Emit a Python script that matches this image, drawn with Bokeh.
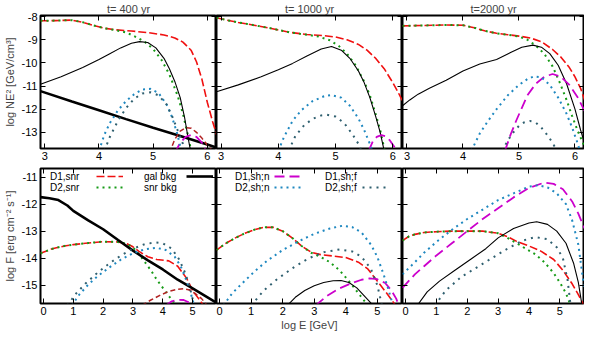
from bokeh.plotting import figure
from bokeh.layouts import row, column
from bokeh.models import Range1d, LinearAxis, FixedTicker, Legend, LegendItem
from bokeh.embed import file_html
from bokeh.resources import INLINE

FONT = "Liberation Sans"

# ---------------- data ----------------
TITLES = ["t= 400 yr", "t= 1000 yr", "t=2000 yr"]
TOP_YLABEL = "log NE\u00b2 [GeV/cm\u00b3]"
BOT_YLABEL = "log F [erg cm\u207b\u00b2 s\u207b\u00b9]"
XLABEL = "log E [GeV]"
TOP_XTICKS = [3, 4, 5, 6]
TOP_YTICKS = [-13, -12, -11, -10, -9, -8]
BOT_XTICKS = [0, 1, 2, 3, 4, 5]
BOT_YTICKS = [-15, -14, -13, -12, -11]
TOP_XRANGE = (2.92, 6.17)
TOP_YRANGE = (-13.7, -7.95)
BOT_XRANGE = (-0.1, 5.8)
BOT_YRANGE = (-15.68, -10.68)

# ---- t = 400 yr, log NE^2 ----
T400_D1snr_x = [2.92, 3.2, 3.5, 3.7, 3.9, 4.1, 4.3, 4.6, 4.9, 5.2, 5.4, 5.55, 5.7, 5.8, 5.9, 6.0, 6.1, 6.2]
T400_D1snr_y = [-8.18, -8.17, -8.15, -8.24, -8.38, -8.5, -8.57, -8.62, -8.69, -8.79, -8.92, -9.1, -9.45, -9.95, -10.7, -11.7, -12.55, -13.3]
T400_D2snr_x = [2.92, 3.2, 3.5, 3.7, 3.9, 4.1, 4.3, 4.5, 4.7, 4.85, 5.0, 5.15, 5.3, 5.45, 5.55, 5.65, 5.72]
T400_D2snr_y = [-8.18, -8.17, -8.15, -8.24, -8.38, -8.5, -8.58, -8.68, -8.9, -9.1, -9.4, -9.85, -10.5, -11.4, -12.2, -13.2, -14.0]
T400_gal_x = [2.92, 3.5, 4.0, 4.5, 5.0, 5.5, 6.0, 6.2]
T400_gal_y = [-11.22, -11.67, -12.05, -12.43, -12.8, -13.16, -13.53, -13.68]
T400_snrbkg_x = [2.92, 3.3, 3.7, 4.0, 4.2, 4.4, 4.6, 4.75, 4.9, 5.05, 5.2, 5.3, 5.4, 5.5, 5.58, 5.65, 5.7]
T400_snrbkg_y = [-10.92, -10.6, -10.2, -9.85, -9.6, -9.35, -9.15, -9.08, -9.12, -9.35, -9.8, -10.25, -10.8, -11.5, -12.35, -13.3, -13.9]
T400_D1shn_x = [5.4, 5.5, 5.6, 5.7, 5.8, 5.9, 6.0]
T400_D1shn_y = [-13.9, -13.45, -13.2, -13.12, -13.2, -13.45, -13.9]
T400_D2shn_x = [4.0, 4.1, 4.2, 4.35, 4.5, 4.65, 4.8, 4.95, 5.1, 5.25, 5.35, 5.45, 5.52]
T400_D2shn_y = [-13.8, -13.1, -12.6, -12.05, -11.65, -11.35, -11.15, -11.12, -11.3, -11.8, -12.35, -13.1, -13.8]
T400_D1shf_x = [5.3, 5.4, 5.5, 5.6, 5.7, 5.8, 5.9, 6.0, 6.1, 6.2]
T400_D1shf_y = [-13.9, -13.3, -12.95, -12.8, -12.82, -13.0, -13.25, -13.55, -13.8, -14.0]
T400_D2shf_x = [4.1, 4.2, 4.35, 4.5, 4.65, 4.8, 4.95, 5.1, 5.25, 5.35, 5.45, 5.55, 5.6]
T400_D2shf_y = [-13.8, -13.2, -12.5, -11.95, -11.55, -11.32, -11.27, -11.4, -11.8, -12.3, -12.9, -13.5, -13.9]

# ---- t = 1000 yr, log NE^2 ----
T1000_D1snr_x = [2.92, 3.1, 3.3, 3.6, 3.9, 4.2, 4.5, 4.8, 5.0, 5.2, 5.4, 5.55, 5.7, 5.85, 6.0, 6.1, 6.2]
T1000_D1snr_y = [-8.05, -8.15, -8.25, -8.38, -8.52, -8.68, -8.77, -8.82, -8.88, -9.0, -9.2, -9.45, -9.8, -10.25, -10.85, -11.3, -11.8]
T1000_D2snr_x = [2.92, 3.1, 3.3, 3.6, 3.9, 4.2, 4.5, 4.7, 4.9, 5.05, 5.2, 5.35, 5.5, 5.6, 5.7, 5.78, 5.86]
T1000_D2snr_y = [-8.05, -8.15, -8.25, -8.38, -8.52, -8.68, -8.78, -8.86, -9.02, -9.25, -9.6, -10.1, -10.8, -11.4, -12.2, -12.9, -13.8]
T1000_snrbkg_x = [2.92, 3.3, 3.7, 4.0, 4.25, 4.5, 4.75, 4.93, 5.1, 5.25, 5.4, 5.5, 5.6, 5.7, 5.78, 5.85]
T1000_snrbkg_y = [-11.25, -10.95, -10.6, -10.3, -10.02, -9.7, -9.4, -9.29, -9.45, -9.8, -10.35, -10.85, -11.5, -12.3, -13.0, -13.8]
T1000_D1shn_x = [5.58, 5.65, 5.72, 5.8, 5.88, 5.95, 6.02, 6.08]
T1000_D1shn_y = [-13.8, -13.4, -13.2, -13.12, -13.18, -13.35, -13.6, -13.9]
T1000_D2shn_x = [4.0, 4.1, 4.25, 4.4, 4.6, 4.8, 4.93, 5.1, 5.25, 5.4, 5.5, 5.6, 5.66]
T1000_D2shn_y = [-13.8, -13.2, -12.5, -12.05, -11.65, -11.44, -11.39, -11.5, -11.85, -12.4, -12.9, -13.5, -13.9]
T1000_D2shf_x = [4.18, 4.3, 4.45, 4.6, 4.75, 4.85, 5.0, 5.15, 5.3, 5.4, 5.47]
T1000_D2shf_y = [-13.8, -13.15, -12.7, -12.42, -12.27, -12.24, -12.32, -12.6, -13.1, -13.5, -13.9]

# ---- t = 2000 yr, log NE^2 ----
T2000_D1snr_x = [2.92, 3.3, 3.7, 4.0, 4.2, 4.4, 4.6, 4.8, 5.0, 5.2, 5.4, 5.6, 5.75, 5.9, 6.0, 6.1, 6.2]
T2000_D1snr_y = [-8.4, -8.38, -8.36, -8.37, -8.48, -8.62, -8.72, -8.78, -8.84, -8.92, -9.08, -9.42, -9.75, -10.2, -10.6, -11.1, -11.8]
T2000_D2snr_x = [2.92, 3.3, 3.7, 4.0, 4.2, 4.4, 4.6, 4.8, 5.0, 5.15, 5.3, 5.45, 5.6, 5.72, 5.85, 5.95, 6.05, 6.15, 6.2]
T2000_D2snr_y = [-8.4, -8.38, -8.36, -8.37, -8.48, -8.62, -8.72, -8.78, -8.86, -9.0, -9.25, -9.6, -10.15, -10.8, -11.6, -12.3, -12.95, -13.5, -13.8]
T2000_snrbkg_x = [2.92, 3.05, 3.2, 3.4, 3.7, 4.0, 4.3, 4.6, 4.85, 5.05, 5.25, 5.4, 5.55, 5.7, 5.85, 6.0, 6.1, 6.2]
T2000_snrbkg_y = [-11.85, -11.6, -11.35, -11.1, -10.75, -10.35, -10.05, -9.85, -9.55, -9.32, -9.23, -9.32, -9.6, -10.1, -10.9, -12.0, -12.9, -13.7]
T2000_D1shn_x = [4.75, 4.85, 4.95, 5.05, 5.15, 5.3, 5.45, 5.6, 5.75, 5.9, 6.05, 6.2]
T2000_D1shn_y = [-13.8, -13.1, -12.5, -11.95, -11.4, -10.9, -10.6, -10.48, -10.6, -10.95, -11.5, -12.2]
T2000_D2shn_x = [4.15, 4.3, 4.45, 4.6, 4.8, 5.0, 5.15, 5.27, 5.4, 5.55, 5.7, 5.85, 5.95, 6.05, 6.1]
T2000_D2shn_y = [-13.8, -13.05, -12.5, -12.0, -11.4, -10.95, -10.7, -10.58, -10.62, -10.95, -11.5, -12.2, -12.8, -13.5, -13.9]
T2000_D2shf_x = [4.7, 4.8, 4.9, 5.0, 5.1, 5.2, 5.3, 5.4, 5.5, 5.6, 5.7]
T2000_D2shf_y = [-13.8, -13.35, -13.0, -12.72, -12.56, -12.51, -12.58, -12.8, -13.1, -13.45, -13.9]

# ---- t = 400 yr, log F ----
B400_D1snr_x = [-0.1, 0.3, 0.7, 1.0, 1.5, 2.0, 2.5, 2.8, 3.0, 3.2, 3.5, 3.8, 4.2, 4.5, 4.8, 5.0, 5.2, 5.4]
B400_D1snr_y = [-13.82, -13.65, -13.55, -13.5, -13.44, -13.39, -13.4, -13.47, -13.58, -13.75, -13.95, -14.05, -14.1, -14.3, -14.75, -15.2, -15.5, -15.8]
B400_D2snr_x = [-0.1, 0.3, 0.7, 1.0, 1.5, 2.0, 2.5, 2.8, 3.0, 3.2, 3.4, 3.6, 3.8, 4.0, 4.2, 4.45]
B400_D2snr_y = [-13.82, -13.65, -13.55, -13.5, -13.44, -13.39, -13.4, -13.47, -13.6, -13.85, -14.15, -14.45, -14.8, -15.1, -15.4, -15.75]
B400_gal_x = [-0.1, 0.2, 0.5, 0.8, 1.0, 1.5, 2.0, 2.5, 3.0, 3.5, 4.0, 4.5, 5.0, 5.5, 5.9]
B400_gal_y = [-11.74, -11.78, -11.85, -12.05, -12.25, -12.6, -12.93, -13.33, -13.72, -14.08, -14.42, -14.8, -15.12, -15.45, -15.72]
B400_snrbkg_x = []
B400_snrbkg_y = []
B400_D1shn_x = [4.1, 4.3, 4.5, 4.7, 4.9, 5.0]
B400_D1shn_y = [-15.75, -15.6, -15.54, -15.55, -15.65, -15.78]
B400_D2shn_x = [0.95, 1.2, 1.5, 1.8, 2.2, 2.6, 3.0, 3.4, 3.8, 4.1, 4.4, 4.6, 4.8, 4.95, 5.05]
B400_D2shn_y = [-15.75, -15.35, -14.98, -14.68, -14.35, -14.05, -13.82, -13.67, -13.62, -13.7, -13.95, -14.3, -14.85, -15.35, -15.75]
B400_D1shf_x = [3.3, 3.6, 3.9, 4.2, 4.5, 4.7, 4.9, 5.1, 5.3, 5.45, 5.55]
B400_D1shf_y = [-15.75, -15.55, -15.38, -15.23, -15.15, -15.13, -15.18, -15.32, -15.5, -15.7, -15.85]
B400_D2shf_x = [0.8, 1.1, 1.4, 1.8, 2.2, 2.6, 3.0, 3.4, 3.75, 4.0, 4.3, 4.55, 4.75, 4.9, 5.05]
B400_D2shf_y = [-15.75, -15.3, -14.95, -14.55, -14.2, -13.9, -13.65, -13.48, -13.42, -13.45, -13.65, -14.05, -14.55, -15.05, -15.75]

# ---- t = 1000 yr, log F ----
B1000_D1snr_x = [-0.1, 0.2, 0.5, 0.8, 1.1, 1.4, 1.7, 2.0, 2.3, 2.6, 2.9, 3.2, 3.6, 4.0, 4.4, 4.7, 5.0, 5.3, 5.55, 5.7]
B1000_D1snr_y = [-13.7, -13.45, -13.25, -13.08, -12.95, -12.86, -12.86, -13.0, -13.25, -13.55, -13.78, -13.87, -13.92, -13.98, -14.15, -14.4, -14.85, -15.3, -15.7, -15.9]
B1000_D2snr_x = [-0.1, 0.2, 0.5, 0.8, 1.1, 1.4, 1.7, 2.0, 2.3, 2.6, 2.9, 3.2, 3.5, 3.8, 4.1, 4.4, 4.7]
B1000_D2snr_y = [-13.7, -13.45, -13.25, -13.08, -12.95, -12.86, -12.86, -13.0, -13.25, -13.55, -13.8, -13.95, -14.15, -14.45, -14.85, -15.3, -15.75]
B1000_snrbkg_x = [2.15, 2.4, 2.7, 3.0, 3.3, 3.6, 3.85, 4.1, 4.35, 4.55, 4.75, 4.9]
B1000_snrbkg_y = [-15.75, -15.45, -15.2, -15.02, -14.9, -14.84, -14.83, -14.9, -15.1, -15.35, -15.6, -15.8]
B1000_D1shn_x = [3.05, 3.4, 3.8, 4.2, 4.5, 4.75, 5.0, 5.25, 5.45, 5.6, 5.7]
B1000_D1shn_y = [-15.75, -15.4, -15.12, -14.92, -14.8, -14.75, -14.78, -14.92, -15.2, -15.5, -15.8]
B1000_D2shn_x = [0.12, 0.4, 0.7, 1.1, 1.5, 2.0, 2.5, 3.0, 3.5, 3.9, 4.2, 4.5, 4.8, 5.0, 5.2, 5.35, 5.5]
B1000_D2shn_y = [-15.75, -15.3, -14.95, -14.5, -14.1, -13.7, -13.38, -13.1, -12.9, -12.8, -12.85, -13.05, -13.5, -13.95, -14.6, -15.15, -15.75]
B1000_D1shf_x = []
B1000_D1shf_y = []
B1000_D2shf_x = [1.0, 1.4, 1.8, 2.3, 2.8, 3.3, 3.8, 4.2, 4.5, 4.8, 5.0, 5.15]
B1000_D2shf_y = [-15.75, -15.2, -14.8, -14.38, -14.02, -13.78, -13.68, -13.75, -13.95, -14.4, -15.0, -15.75]

# ---- t = 2000 yr, log F ----
B2000_D1snr_x = [-0.1, 0.1, 0.3, 0.6, 1.0, 1.5, 2.0, 2.5, 3.0, 3.3, 3.6, 4.0, 4.4, 4.8, 5.1, 5.4, 5.6, 5.8]
B2000_D1snr_y = [-13.35, -13.2, -13.12, -13.05, -13.02, -13.0, -13.0, -13.0, -13.08, -13.2, -13.38, -13.55, -13.75, -14.05, -14.45, -14.95, -15.35, -15.8]
B2000_D2snr_x = [-0.1, 0.1, 0.3, 0.6, 1.0, 1.5, 2.0, 2.5, 3.0, 3.3, 3.6, 3.9, 4.2, 4.5, 4.8, 5.0, 5.2, 5.35]
B2000_D2snr_y = [-13.35, -13.2, -13.12, -13.05, -13.02, -13.0, -13.0, -13.0, -13.08, -13.25, -13.45, -13.65, -13.85, -14.15, -14.55, -14.9, -15.3, -15.75]
B2000_snrbkg_x = [0.38, 0.7, 1.1, 1.6, 2.1, 2.6, 3.0, 3.5, 4.0, 4.25, 4.6, 4.9, 5.2, 5.45, 5.6, 5.72]
B2000_snrbkg_y = [-15.75, -15.25, -14.85, -14.45, -14.05, -13.65, -13.25, -12.9, -12.7, -12.65, -12.75, -13.0, -13.45, -14.2, -14.9, -15.75]
B2000_D1shn_x = [-0.1, 0.3, 0.6, 1.0, 1.5, 2.0, 2.5, 3.0, 3.5, 4.0, 4.5, 4.8, 5.1, 5.4, 5.6, 5.8]
B2000_D1shn_y = [-15.1, -14.6, -14.3, -13.9, -13.45, -13.0, -12.55, -12.15, -11.75, -11.4, -11.2, -11.25, -11.45, -11.9, -12.35, -12.9]
B2000_D2shn_x = [-0.1, 0.3, 0.6, 1.0, 1.5, 2.0, 2.5, 3.0, 3.5, 4.0, 4.3, 4.6, 4.9, 5.2, 5.4, 5.6, 5.8]
B2000_D2shn_y = [-14.6, -14.15, -13.8, -13.4, -12.95, -12.55, -12.2, -11.85, -11.6, -11.35, -11.3, -11.38, -11.6, -12.0, -12.6, -13.5, -15.2]
B2000_D2shf_x = [0.95, 1.3, 1.8, 2.3, 2.8, 3.3, 3.8, 4.2, 4.6, 4.9, 5.1, 5.25, 5.35]
B2000_D2shf_y = [-15.75, -15.2, -14.7, -14.35, -14.0, -13.65, -13.35, -13.22, -13.3, -13.6, -14.0, -14.8, -15.75]

# ---------------- styles ----------------
STYLE = {
    "D1snr": dict(line_color="#f01010", line_width=1.6, line_dash="8 3"),
    "D2snr": dict(line_color="#169a16", line_width=2.0, line_dash="2 4"),
    "gal": dict(line_color="black", line_width=2.6, line_dash="solid"),
    "snrbkg": dict(line_color="black", line_width=1.1, line_dash="solid"),
    "D1shn": dict(line_color="#cc00cc", line_width=1.8, line_dash="10 5"),
    "D2shn": dict(line_color="#1f88c0", line_width=2.0, line_dash="2 4"),
    "D1shf": dict(line_color="#b22222", line_width=1.5, line_dash="5 3"),
    "D2shf": dict(line_color="#2f5f6f", line_width=2.0, line_dash="2 5"),
}
ORDER = ["D1snr", "D2snr", "gal", "snrbkg", "D1shn", "D2shn", "D1shf", "D2shf"]


def series(prefix):
    g = globals()
    out = {}
    for k in ORDER:
        xn, yn = f"{prefix}_{k}_x", f"{prefix}_{k}_y"
        if xn in g:
            out[k] = (g[xn], g[yn])
    return out


def style_axis(ax, ticks, labels, standoff=3):
    ax.ticker = FixedTicker(ticks=ticks)
    ax.major_tick_in = 5
    ax.major_tick_out = 0
    ax.minor_tick_line_color = None
    ax.axis_line_color = None
    ax.major_tick_line_color = "black"
    ax.major_tick_line_width = 1
    ax.major_label_text_font = FONT
    ax.major_label_text_color = "black"
    if labels:
        ax.major_label_text_font_size = "11px"
        ax.major_label_standoff = standoff
        ax.major_label_overrides = {t: str(t) for t in ticks}
    else:
        # mirror axis: tick marks only, no space taken by labels
        ax.major_label_text_font_size = "1px"
        ax.major_label_standoff = 0
        ax.axis_label_standoff = 0
        ax.major_label_overrides = {t: "" for t in ticks}


def make_panel(w, h, xr, yr, xt, yt, bl, bt, bb, data, title=None, ylabel=None, xlabel=None, ylab=True):
    p = figure(width=w, height=h, x_range=Range1d(*xr), y_range=Range1d(*yr),
               output_backend="svg", toolbar_location=None,
               x_axis_location=None, y_axis_location=None,
               min_border_left=bl, min_border_right=0, min_border_top=bt, min_border_bottom=bb)
    p.grid.visible = False
    p.outline_line_color = "black"
    p.outline_line_width = 2
    p.background_fill_color = "white"
    p.border_fill_color = "white"
    bottom = LinearAxis()
    left = LinearAxis()
    top = LinearAxis()
    right = LinearAxis()
    style_axis(bottom, xt, True, 3)
    style_axis(left, yt, ylab, 3)
    style_axis(top, xt, False)
    style_axis(right, yt, False)
    p.add_layout(bottom, "below")
    p.add_layout(left, "left")
    p.add_layout(top, "above")
    p.add_layout(right, "right")
    if ylabel:
        left.axis_label = ylabel
        left.axis_label_text_font = FONT
        left.axis_label_text_font_size = "11px"
        left.axis_label_text_font_style = "normal"
        left.axis_label_standoff = 3
    if xlabel:
        bottom.axis_label = xlabel
        bottom.axis_label_text_font = FONT
        bottom.axis_label_text_font_size = "11px"
        bottom.axis_label_text_font_style = "normal"
        bottom.axis_label_standoff = 1
    if title:
        p.title.text = title
        p.title.align = "center"
        p.title.text_font = FONT
        p.title.text_font_size = "11px"
        p.title.text_font_style = "normal"
        p.title.standoff = 1
    rs = {}
    for k, (xs, ys) in data.items():
        rs[k] = p.line(xs, ys, **STYLE[k])
    return p, rs


ITEM_H = 12  # legend row box height


def add_key(p, rs, entries, text_x, glyph_x, frame_h, rows_c=(8.0, 19.0)):
    # gnuplot-like key: text first, line sample to the right, one legend per row
    common = dict(padding=0, spacing=0, margin=0, border_line_color=None,
                  background_fill_alpha=0, label_height=ITEM_H, glyph_height=ITEM_H,
                  label_text_font=FONT, label_text_font_size="10px",
                  label_text_color="black", label_text_baseline="middle")
    for (lab, k), yc in zip(entries, rows_c):
        y = frame_h - yc - ITEM_H / 2
        p.add_layout(Legend(items=[LegendItem(label=lab, renderers=[rs[k]])],
                            location=(text_x, y), glyph_width=0, label_standoff=0, **common))
        p.add_layout(Legend(items=[LegendItem(label=" ", renderers=[rs[k]])],
                            location=(glyph_x, y), glyph_width=27, label_standoff=0,
                            label_width=0, **common))


FH1, FH2 = 133, 135
H1 = 15 + FH1 + 18
H2 = 2 + FH2 + 30

p1, r1 = make_panel(216, H1, TOP_XRANGE, TOP_YRANGE, TOP_XTICKS, TOP_YTICKS, 34, 15, 18,
                    series("T400"), title=TITLES[0], ylabel=TOP_YLABEL)
p2, r2 = make_panel(186, H1, TOP_XRANGE, TOP_YRANGE, TOP_XTICKS, TOP_YTICKS, 0, 15, 18,
                    series("T1000"), title=TITLES[1], ylab=False)
p3, r3 = make_panel(182, H1, TOP_XRANGE, TOP_YRANGE, TOP_XTICKS, TOP_YTICKS, 0, 15, 18,
                    series("T2000"), title=TITLES[2], ylab=False)
p4, r4 = make_panel(216, H2, BOT_XRANGE, BOT_YRANGE, BOT_XTICKS, BOT_YTICKS, 34, 2, 30,
                    series("B400"), ylabel=BOT_YLABEL)
p5, r5 = make_panel(186, H2, BOT_XRANGE, BOT_YRANGE, BOT_XTICKS, BOT_YTICKS, 0, 2, 30,
                    series("B1000"), xlabel=XLABEL, ylab=False)
p6, r6 = make_panel(182, H2, BOT_XRANGE, BOT_YRANGE, BOT_XTICKS, BOT_YTICKS, 0, 2, 30,
                    series("B2000"), ylab=False)

add_key(p4, r4, [("D1,snr", "D1snr"), ("D2,snr", "D2snr")], 10, 56, FH2)
add_key(p4, r4, [("gal bkg", "gal"), ("snr bkg", "snrbkg")], 104, 146, FH2)
add_key(p5, r5, [("D1,sh;n", "D1shn"), ("D2,sh;n", "D2shn")], 19, 58, FH2)
add_key(p5, r5, [("D1,sh;f", "D1shf"), ("D2,sh;f", "D2shf")], 109, 146, FH2)

layout = column(row(p1, p2, p3), row(p4, p5, p6))

with open("out.html", "w") as f:
    f.write(file_html(layout, INLINE))
